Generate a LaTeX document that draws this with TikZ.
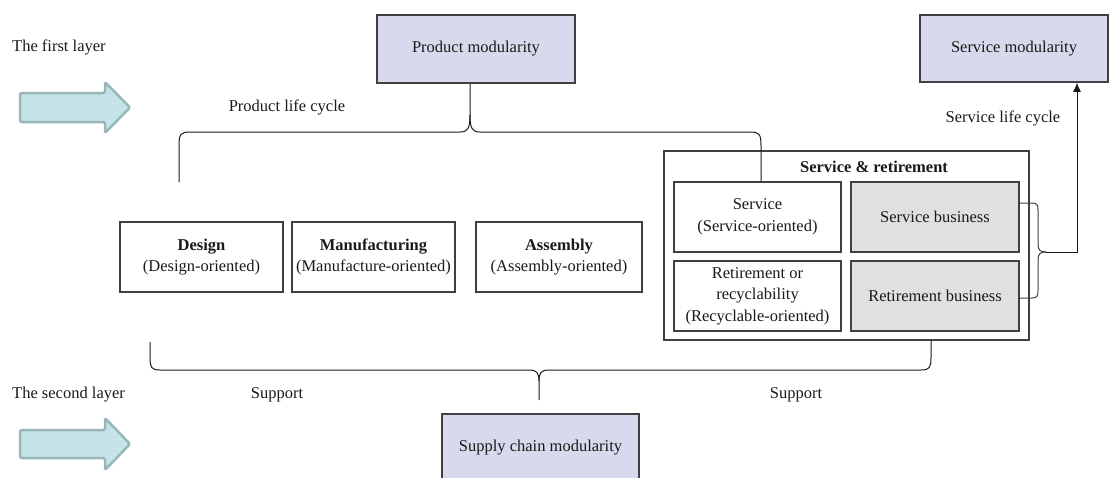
\documentclass[tikz,border=0pt]{standalone}
\usepackage{fontspec}
\setmainfont{Liberation Serif}
\usetikzlibrary{arrows.meta}
\definecolor{modfill}{HTML}{D9D9EE}
\definecolor{bizfill}{HTML}{E0E0E0}
\definecolor{arrowfill}{HTML}{C6E3E7}
\definecolor{arrowedge}{HTML}{98B6BA}
\definecolor{edge}{HTML}{404040}
\definecolor{ink}{HTML}{1A1A1A}
\begin{document}
\begin{tikzpicture}[x=1pt,y=-1pt,
  every node/.style={font=\fontsize{16.5}{21.5}\selectfont, text=ink},
  box/.style={draw=edge, line width=1.2pt, align=center, inner sep=0pt},
  modbox/.style={box, fill=modfill, line width=1.5pt},
  bizbox/.style={box, fill=bizfill},
  label/.style={inner sep=0pt},
  brace/.style={draw=ink, line width=1pt},
  layerarrow/.style={draw=arrowedge, fill=arrowfill, line width=2.5pt, rounded corners=2pt, line join=round}]
\useasboundingbox (0,0) rectangle (1112,477);

% layer captions and block arrows
\node[label, anchor=west] (l1) at (12,47) {The first layer};
\node[label, anchor=west] (l2) at (12,395) {The second layer};
\draw[layerarrow] (20,93) -- (105,93) -- (105,82) -- (130,107.5) -- (105,133) -- (105,122) -- (20,122) -- cycle;
\draw[layerarrow] (20,430) -- (105,430) -- (105,418) -- (130,444) -- (105,470) -- (105,458) -- (20,458) -- cycle;

% modularity boxes
\node[modbox, minimum width=198pt, minimum height=68pt] (pm) at (476,49) {Product modularity};
\node[modbox, minimum width=188pt, minimum height=67pt] (sm) at (1014,48.5) {Service modularity};
\node[modbox, minimum width=197pt, minimum height=68pt] (scm) at (540.5,448) {Supply chain modularity};

% life-cycle stages
\node[box, minimum width=163pt, minimum height=70pt] (design) at (201.5,257) {\textbf{Design}\\(Design-oriented)};
\node[box, minimum width=163pt, minimum height=70pt] (manuf) at (373.5,257) {\textbf{Manufacturing}\\(Manufacture-oriented)};
\node[box, minimum width=166pt, minimum height=70pt] (assem) at (559,257) {\textbf{Assembly}\\(Assembly-oriented)};

\node[box, minimum width=365pt, minimum height=189pt] (sr) at (846.5,245.5) {};
\node[label, font=\fontsize{16.5}{21.5}\selectfont\bfseries] (srtitle) at (874,167) {Service \& retirement};
\node[box, minimum width=167pt, minimum height=70pt] (service) at (757.5,217) {Service\\(Service-oriented)};
\node[box, minimum width=167pt, minimum height=70pt] (retire) at (757.5,296) {Retirement or\\recyclability\\(Recyclable-oriented)};
\node[bizbox, minimum width=168pt, minimum height=70pt] (sbiz) at (935,217) {Service business};
\node[bizbox, minimum width=168pt, minimum height=70pt] (rbiz) at (935,296) {Retirement business};

% product life cycle brace
\coordinate (ptl) at (179,182);
\coordinate (ptip) at (470,115);
\draw[brace] (ptl) -- (179,145) .. controls (179,134) and (181,132) .. (190,132) -- (460,132)
  .. controls (468,132) and (470,128) .. (ptip) -- ([xshift=-6pt]pm.south);
\draw[brace] (ptip) .. controls (470,128) and (472,132) .. (480,132) -- (750,132)
  .. controls (759,132) and (761,134) .. (761,145) -- ([xshift=3.5pt]service.north);
\node[label] (plc) at (287,107) {Product life cycle};

% support brace
\coordinate (sl) at (150,342);
\coordinate (stip) at (539,381);
\coordinate (send) at (539,400);
\draw[brace] (sl) -- (150,358) .. controls (150,368) and (152,370) .. (160,370) -- (529,370)
  .. controls (537,370) and (539,373) .. (stip) -- (send);
\draw[brace] ([xshift=84.5pt]sr.south) -- (931,358) .. controls (931,368) and (929,370) .. (921,370) -- (549,370)
  .. controls (541,370) and (539,373) .. (stip);
\node[label] (sup1) at (277,395) {Support};
\node[label] (sup2) at (796,395) {Support};

% service life cycle bracket and arrow
\coordinate (btip) at (1046,252);
\draw[brace, draw=edge] ([yshift=14pt]sbiz.east) -- (1032,203) .. controls (1037,203) and (1038,205) .. (1038,210)
  -- (1038,244) .. controls (1038,250) and (1040,252) .. (btip);
\draw[brace, draw=edge] ([yshift=-2pt]rbiz.east) -- (1032,298) .. controls (1037,298) and (1038,296) .. (1038,291)
  -- (1038,260) .. controls (1038,254) and (1040,252) .. (btip);
\draw[brace, -{Latex[length=9pt,width=8pt]}] (btip) -- (1077,252) -- ([xshift=63pt]sm.south);
\node[label] (slc) at (1003,118) {Service life cycle};
\end{tikzpicture}
\end{document}
